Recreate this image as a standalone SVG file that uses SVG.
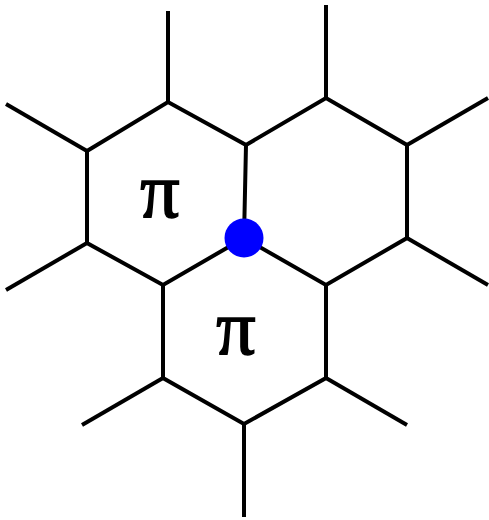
<svg xmlns="http://www.w3.org/2000/svg" width="489" height="520" viewBox="0 0 489 520">
<style>
.e{stroke:#000;stroke-width:4;fill:none;stroke-linecap:butt;stroke-linejoin:miter}
.pi{font-family:"Liberation Serif","DejaVu Serif",serif;font-size:78px;fill:#000;stroke:#000;stroke-width:1.6;text-anchor:middle}
</style>
<rect width="489" height="520" fill="#fff"/>
<g id="connectors" class="e">
<polyline points="87,151 168,102 246,145 244,238 163,285 87,243 87,151"/>
<polyline points="246,145 326,98 407,145 407,238 326,285 244,238"/>
<polyline points="163,285 163,378 244,424 326,378 326,285"/>
<line x1="168" y1="102" x2="168" y2="11"/>
<line x1="87" y1="151" x2="6" y2="104"/>
<line x1="87" y1="243" x2="6" y2="290"/>
<line x1="326" y1="98" x2="326" y2="5"/>
<line x1="407" y1="145" x2="488" y2="98"/>
<line x1="407" y1="238" x2="488" y2="285"/>
<line x1="326" y1="378" x2="407" y2="425"/>
<line x1="244" y1="424" x2="244" y2="517"/>
<line x1="163" y1="378" x2="82" y2="425"/>
</g>
<g id="label1"><text class="pi" x="160" y="217">π</text></g>
<g id="label2"><text class="pi" x="236" y="354">π</text></g>
<g id="center"><circle cx="244" cy="238" r="19.5" fill="#0000ff"/></g>
</svg>
